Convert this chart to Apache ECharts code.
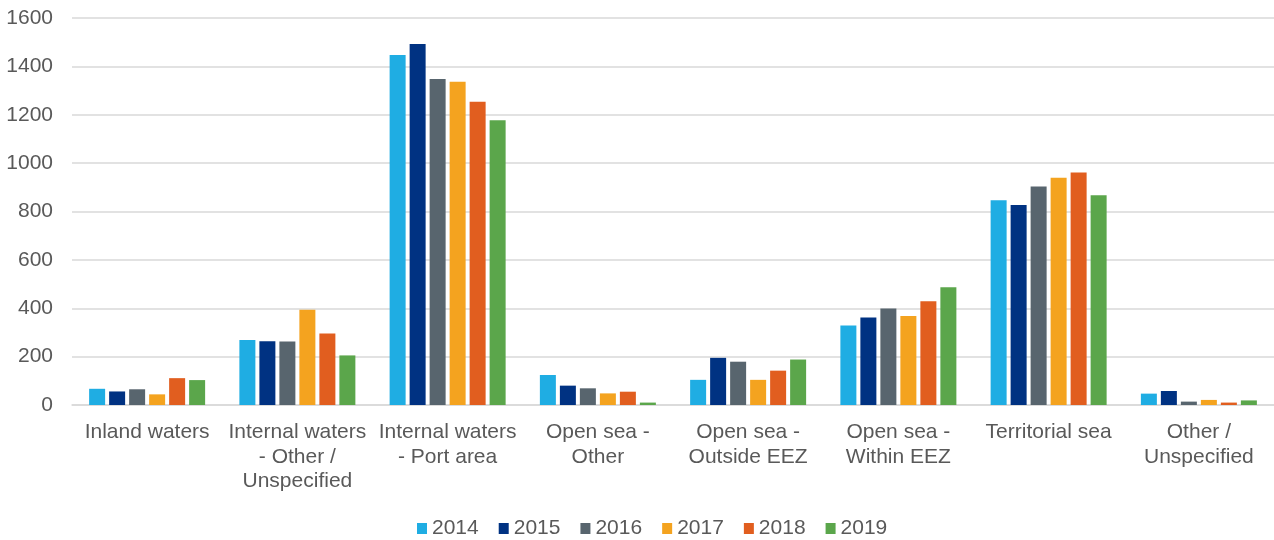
<!DOCTYPE html>
<html>
<head>
<meta charset="utf-8">
<script src="https://cdn.jsdelivr.net/npm/echarts@6/dist/echarts.min.js"></script>
<style>
  html, body { margin: 0; padding: 0; background: #fff; }
  #chart { width: 1274px; height: 540px; }
</style>
</head>
<body>
<div id="chart"></div>
<script>
var categories = [
  'Inland waters',
  'Internal waters\n- Other /\nUnspecified',
  'Internal waters\n- Port area',
  'Open sea -\nOther',
  'Open sea -\nOutside EEZ',
  'Open sea -\nWithin EEZ',
  'Territorial sea',
  'Other /\nUnspecified'
];
var years = ['2014', '2015', '2016', '2017', '2018', '2019'];
var colors = ['#1fade3', '#003282', '#58656e', '#f4a31f', '#e15e1f', '#5ba64b'];

var v2014 = [67, 269, 1447, 124, 104, 329, 847, 47];
var v2015 = [56, 264, 1493, 80, 195, 362, 827, 58];
var v2016 = [65, 263, 1348, 69, 179, 399, 903, 14];
var v2017 = [44, 394, 1336, 48, 104, 368, 940, 21];
var v2018 = [111, 296, 1254, 55, 142, 429, 961, 10];
var v2019 = [103, 205, 1177, 10, 188, 487, 867, 19];
var valuesByYear = [v2014, v2015, v2016, v2017, v2018, v2019];

var textColor = '#595959';
var font = 'Liberation Sans, Arial, sans-serif';

var series = years.map(function (y, i) {
  return {
    name: y, type: 'bar', data: valuesByYear[i],
    barWidth: 16, barGap: '25%',
    itemStyle: { color: colors[i] }
  };
});

var c = echarts.init(document.getElementById('chart'), null, { renderer: 'canvas' });
c.setOption({
  animation: false,
  textStyle: { fontFamily: font },
  legend: {
    data: years, bottom: -4, left: 412,
    itemWidth: 10, itemHeight: 11, itemGap: 20,
    icon: 'rect',
    textStyle: { color: textColor, fontSize: 21, fontFamily: font }
  },
  grid: { left: 72, right: 0, top: 18, bottom: 135, containLabel: false },
  xAxis: {
    type: 'category', data: categories,
    axisTick: { show: false },
    axisLine: { lineStyle: { color: '#d9d9d9', width: 1.5 } },
    axisLabel: { color: textColor, fontSize: 21, lineHeight: 24.5, margin: 15, interval: 0, fontFamily: font }
  },
  yAxis: {
    type: 'value', min: 0, max: 1600, interval: 200,
    axisLine: { show: false }, axisTick: { show: false },
    splitLine: { lineStyle: { color: '#d9d9d9', width: 1.5 } },
    axisLabel: { color: textColor, fontSize: 21, margin: 19, fontFamily: font,
      formatter: function (v) { return String(v); } }
  },
  series: series
});
</script>
</body>
</html>
